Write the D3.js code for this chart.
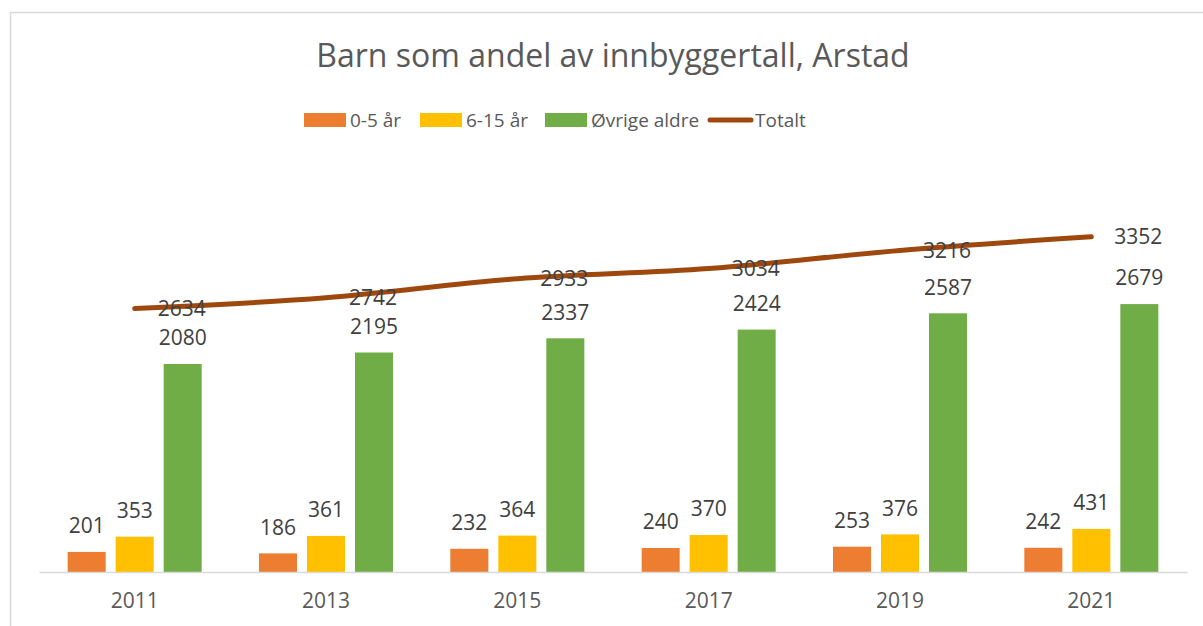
<!DOCTYPE html>
<html>
<head>
<meta charset="utf-8">
<script src="https://cdn.jsdelivr.net/npm/d3@7"></script>
<style>
  body { margin: 0; background: #fff; }
  text { font-family: "Open Sans", "Noto Sans", sans-serif; }
</style>
</head>
<body>
<div id="chart"></div>
<script>
// data
var years = ["2011", "2013", "2015", "2017", "2019", "2021"];
var seriesNames = ["0-5 år", "6-15 år", "Øvrige aldre"];
var age0to5 = [201, 186, 232, 240, 253, 242];
var age6to15 = [353, 361, 364, 370, 376, 431];
var otherAges = [2080, 2195, 2337, 2424, 2587, 2679];
var total = [2634, 2742, 2933, 3034, 3216, 3352];
var lineName = "Totalt";

var colors = ["#ED7D31", "#FFC000", "#70AD47"];
var lineColor = "#9E480E";

var width = 1203, height = 626;

var svg = d3.select("#chart")
  .append("svg")
    .attr("width", width)
    .attr("height", height);

// chart frame
svg.append("rect")
  .attr("x", 10.5).attr("y", 12.5)
  .attr("width", 1300).attr("height", 700)
  .attr("fill", "none")
  .attr("stroke", "#d9d9d9")
  .attr("stroke-width", 1.5);

// title
svg.append("text")
  .attr("x", 613).attr("y", 56)
  .attr("dy", "0.35em")
  .attr("text-anchor", "middle")
  .attr("font-size", 32)
  .attr("fill", "#595959")
  .text("Barn som andel av innbyggertall, Arstad");

var x0 = d3.scaleBand()
  .domain(years)
  .range([39, 1187]);

var x1 = d3.scaleBand()
  .domain(seriesNames)
  .range([0, x0.bandwidth()])
  .paddingInner(0.208)
  .paddingOuter(0.597);

var y = d3.scaleLinear()
  .domain([0, 4000])
  .range([572, 172]);

var table = years.map(function(yr, i) {
  return {
    year: yr,
    values: [age0to5[i], age6to15[i], otherAges[i]].map(function(v, j) {
      return { name: seriesNames[j], value: v, color: colors[j] };
    })
  };
});

// bars
var groups = svg.selectAll("g.year")
  .data(table)
  .enter()
  .append("g")
    .attr("class", "year")
    .attr("transform", function(d) { return "translate(" + x0(d.year) + ",0)"; });

groups.selectAll("rect")
  .data(function(d) { return d.values; })
  .enter()
  .append("rect")
    .attr("x", function(d) { return x1(d.name); })
    .attr("y", function(d) { return y(d.value); })
    .attr("width", x1.bandwidth())
    .attr("height", function(d) { return y(0) - y(d.value); })
    .attr("fill", function(d) { return d.color; });

groups.selectAll("text.lbl")
  .data(function(d) { return d.values; })
  .enter()
  .append("text")
    .attr("class", "lbl")
    .attr("x", function(d) { return x1(d.name) + x1.bandwidth() / 2; })
    .attr("y", function(d) { return y(d.value) - 26; })
    .attr("dy", "0.35em")
    .attr("text-anchor", "middle")
    .attr("font-size", 21)
    .attr("fill", "#404040")
    .text(function(d) { return d.value; });

// x axis
var xAxis = svg.append("g")
  .attr("transform", "translate(0,572)")
  .call(d3.axisBottom(x0).tickSize(0).tickPadding(21));
xAxis.select(".domain").attr("stroke", "#d9d9d9").attr("stroke-width", 1.5);
xAxis.selectAll("text")
  .attr("font-size", 21)
  .attr("fill", "#595959")
  .style("font-family", "'Open Sans', 'Noto Sans', sans-serif");

// total line
var line = d3.line()
  .x(function(d, i) { return x0(years[i]) + x0.bandwidth() / 2; })
  .y(function(d) { return y(d); })
  .curve(d3.curveCatmullRom.alpha(0.5));

svg.append("path")
  .datum(total)
  .attr("d", line)
  .attr("fill", "none")
  .attr("stroke", lineColor)
  .attr("stroke-width", 5)
  .attr("stroke-linecap", "round");

svg.selectAll("text.tot")
  .data(total)
  .enter()
  .append("text")
    .attr("class", "tot")
    .attr("x", function(d, i) { return x0(years[i]) + x0.bandwidth() / 2 + 23; })
    .attr("y", function(d) { return y(d); })
    .attr("dy", "0.35em")
    .attr("font-size", 21)
    .attr("fill", "#404040")
    .text(function(d) { return d; });

// legend
var legendItems = [
  { name: seriesNames[0], color: colors[0], x: 304, type: "rect" },
  { name: seriesNames[1], color: colors[1], x: 420, type: "rect" },
  { name: seriesNames[2], color: colors[2], x: 545, type: "rect" },
  { name: lineName, color: lineColor, x: 708, type: "line" }
];

var legend = svg.selectAll("g.legend")
  .data(legendItems)
  .enter()
  .append("g")
    .attr("class", "legend")
    .attr("transform", function(d) { return "translate(" + d.x + ",120)"; });

legend.filter(function(d) { return d.type == "rect"; })
  .append("rect")
    .attr("x", 0).attr("y", -7)
    .attr("width", 42).attr("height", 14)
    .attr("fill", function(d) { return d.color; });

legend.filter(function(d) { return d.type == "line"; })
  .append("line")
    .attr("x1", 2).attr("x2", 43)
    .attr("y1", 0).attr("y2", 0)
    .attr("stroke", function(d) { return d.color; })
    .attr("stroke-width", 5)
    .attr("stroke-linecap", "round");

legend.append("text")
  .attr("x", function(d) { return d.type == "line" ? 47 : 46; })
  .attr("dy", "0.35em")
  .attr("font-size", 19)
  .attr("fill", "#595959")
  .text(function(d) { return d.name; });
</script>
</body>
</html>
